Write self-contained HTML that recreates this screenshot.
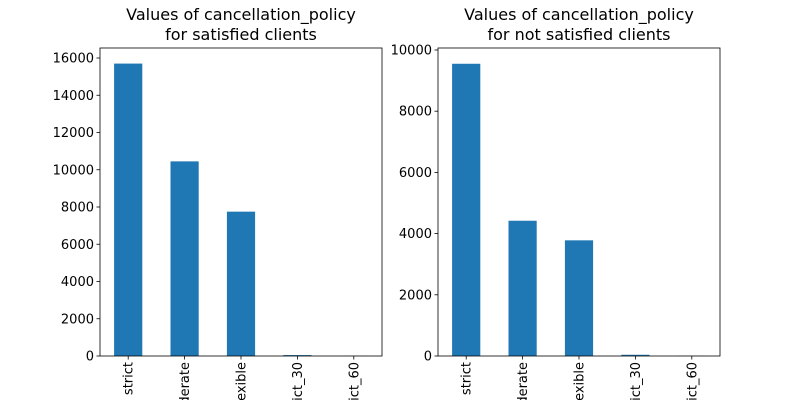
<!DOCTYPE html>
<html><head><meta charset="utf-8"><style>
html,body{margin:0;background:#fff;width:800px;height:400px;overflow:hidden;}
svg{display:block;font-family:"DejaVu Sans","Liberation Sans",sans-serif;overflow:hidden;}
</style></head><body>
<svg id="chart" width="800" height="400" viewBox="0 0 800 400"></svg>
<script>
const categories = ["strict","moderate","flexible","super_strict_30","super_strict_60"];
const satisfiedValues = [15700, 10450, 7750, 50, 5];
const notSatisfiedValues = [9550, 4420, 3780, 40, 5];
const leftTicks = [0,2000,4000,6000,8000,10000,12000,14000,16000];
const rightTicks = [0,2000,4000,6000,8000,10000];
const leftTitle = ["Values of cancellation_policy","for satisfied clients"];
const rightTitle = ["Values of cancellation_policy","for not satisfied clients"];

const NS="http://www.w3.org/2000/svg";
const svg=document.getElementById('chart');
function mk(tag,attrs,parent){const e=document.createElementNS(NS,tag);for(const k in attrs)e.setAttribute(k,attrs[k]);(parent||svg).appendChild(e);return e;}

function panel(x0,x1,y0,y1,yMax,values,ticks,title,prefix){
  const g=mk('g',{});
  
  
  const ys=v=>y1-(v/yMax)*(y1-y0);
  const step=(x1-x0)/categories.length;
  const xc=i=>x0+step*(i+0.5);
  const bw=step*0.5;
  values.forEach((v,i)=>{
    const r=mk('rect',{x:xc(i)-bw/2,y:ys(v),width:bw,height:y1-ys(v),fill:'#1f77b4'},g);
    
    
  });
  const frame=mk('rect',{x:x0,y:y0,width:x1-x0,height:y1-y0,fill:'none',stroke:'#000','stroke-width':0.8},g);
  
  
  ticks.forEach(t=>{
    const y=ys(t);
    mk('line',{x1:x0-3.5,x2:x0,y1:y,y2:y,stroke:'#000','stroke-width':0.8},g);
    const tx=mk('text',{x:x0-6,y:y+4.5,'text-anchor':'end','font-size':13},g);
    tx.textContent=t;
    
    
  });
  categories.forEach((c,i)=>{
    const x=xc(i);
    mk('line',{x1:x,x2:x,y1:y1,y2:y1+3.5,stroke:'#000','stroke-width':0.8},g);
    const tx=mk('text',{x:0,y:0,'text-anchor':'end','font-size':13,transform:`translate(${x+4.5},${y1+6}) rotate(-90)`},g);
    tx.textContent=c;
    
    
  });
  title.forEach((line,i)=>{
    const tx=mk('text',{x:(x0+x1)/2,y:20+i*20,'text-anchor':'middle','font-size':16},g);
    tx.textContent=line;
    
    
  });
}
panel(100,382,48,356,16000*308/298,satisfiedValues,leftTicks,leftTitle,'satisfied');
panel(438,720,48,356,10000*308/306,notSatisfiedValues,rightTicks,rightTitle,'not-satisfied');
</script>
</body></html>
